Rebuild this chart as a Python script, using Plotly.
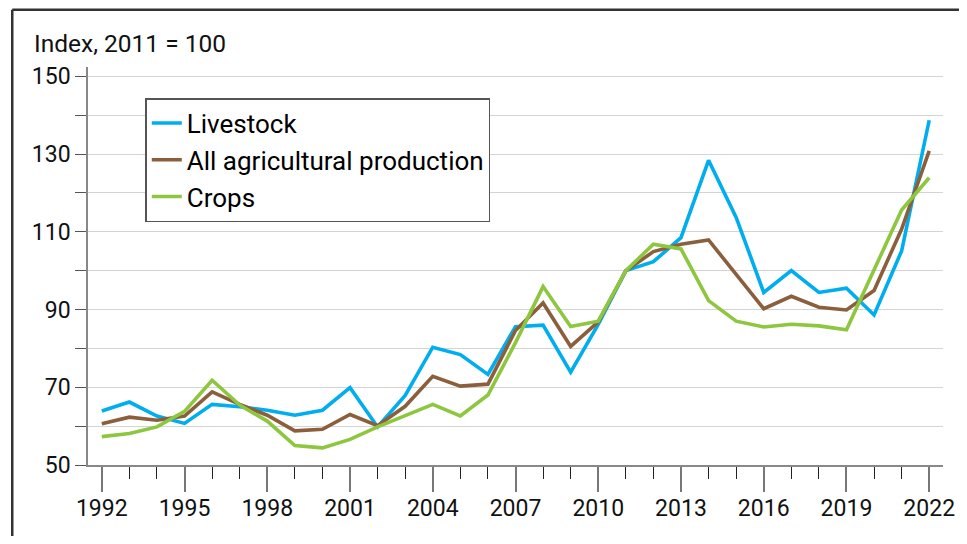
import plotly.graph_objects as go

years = list(range(1992, 2023))

livestock = [63.9, 66.2, 62.6, 60.7, 65.6, 65.0, 64.1, 62.8, 64.1, 69.9,
             59.8, 67.9, 80.3, 78.4, 73.3, 85.6, 86.0, 73.9, 86.2, 100.0,
             102.3, 108.5, 128.4, 113.7, 94.4, 100.0, 94.4, 95.5, 88.6, 105.1,
             138.7]
all_agri = [60.6, 62.3, 61.5, 62.6, 68.8, 65.6, 62.8, 58.8, 59.2, 63.0,
            60.1, 65.1, 72.8, 70.3, 70.8, 84.6, 91.7, 80.5, 86.8, 100.0,
            104.9, 106.8, 107.9, 99.2, 90.2, 93.4, 90.6, 89.9, 94.9, 110.7,
            130.8]
crops = [57.3, 58.1, 59.8, 63.8, 71.8, 65.4, 61.3, 55.0, 54.4, 56.6,
         59.8, 62.8, 65.6, 62.6, 68.0, 81.5, 95.9, 85.6, 87.0, 100.0,
         106.8, 105.6, 92.3, 87.0, 85.5, 86.2, 85.8, 84.8, 100.0, 115.6,
         123.9]

y_label_vals = [50, 70, 90, 110, 130, 150]

FONT = "Roboto, Arial, sans-serif"

fig = go.Figure()
fig.add_trace(go.Scatter(x=years, y=livestock, mode="lines", name="Livestock",
                         line=dict(color="#00aeef", width=3.6)))
fig.add_trace(go.Scatter(x=years, y=all_agri, mode="lines", name="All agricultural production",
                         line=dict(color="#8b5e3c", width=3.6)))
fig.add_trace(go.Scatter(x=years, y=crops, mode="lines", name="Crops",
                         line=dict(color="#8dc63f", width=3.6)))

# page body has an 8px margin, so the figure is a bit smaller and shifted
fig.update_layout(
    width=959, height=528,
    margin=dict(l=80, r=21, t=59, b=71),
    paper_bgcolor="white", plot_bgcolor="white",
    font=dict(family=FONT, size=23, color="#111"),
    showlegend=True,
    legend=dict(x=0.067, y=0.922, xanchor="left", yanchor="top",
                bordercolor="#555", borderwidth=1.5, bgcolor="white",
                font=dict(size=26, color="#000"), tracegroupgap=0),
    xaxis=dict(
        range=[1991.5, 2022.5], tickvals=years[::3], showgrid=False,
        ticks="outside", ticklen=25, tickcolor="#777", tickwidth=1.5,
        showline=True, linecolor="#888", linewidth=1.5,
        minor=dict(dtick=1, tick0=1992, ticks="outside", ticklen=12,
                   tickcolor="#222", tickwidth=1.2),
        tickfont=dict(size=23), ticklabelstandoff=-3, zeroline=False,
    ),
    yaxis=dict(
        range=[50, 152.4], tickvals=y_label_vals,
        ticks="outside", ticklen=11, tickcolor="#555", tickwidth=1.2,
        showgrid=True, gridcolor="#d4d4d4", gridwidth=1.2,
        showline=True, linecolor="#888", linewidth=1.5,
        minor=dict(dtick=10, tick0=50, ticks="outside", ticklen=11,
                   tickcolor="#555", tickwidth=1.2, showgrid=True,
                   gridcolor="#d4d4d4", gridwidth=1.2),
        tickfont=dict(size=23), zeroline=False,
    ),
)

fig.add_annotation(text="Index, 2011 = 100", xref="paper", yref="paper",
                   x=-0.065, y=1.059, xanchor="left", yanchor="middle",
                   showarrow=False, font=dict(size=24.5, family=FONT))

# frame lines at top and left
fig.add_shape(type="line", xref="paper", yref="paper",
              x0=-0.0886, x1=1.05, y0=1.144, y1=1.144,
              line=dict(color="#333", width=2.5))
fig.add_shape(type="line", xref="paper", yref="paper",
              x0=-0.0886, x1=-0.0886, y0=1.144, y1=-0.2,
              line=dict(color="#333", width=2.5))

fig.write_html("out.html")
